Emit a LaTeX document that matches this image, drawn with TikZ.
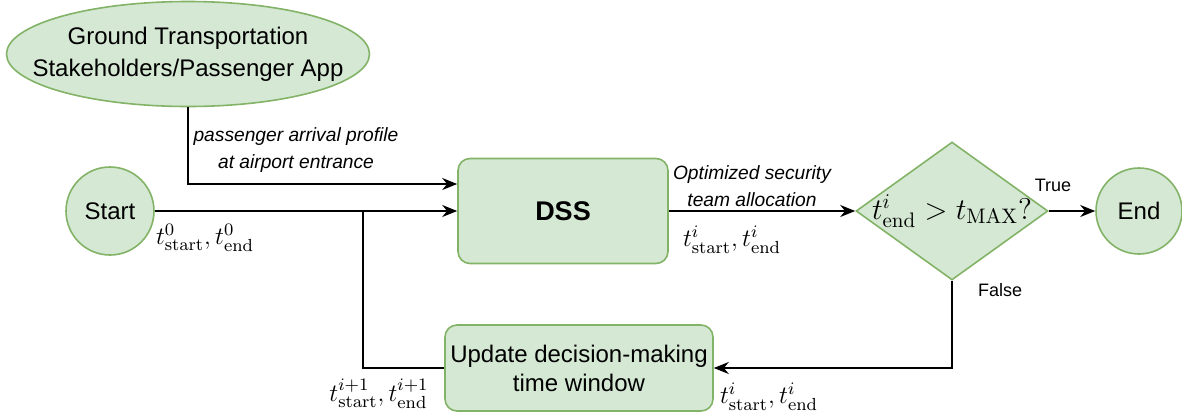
\RequirePackage{fix-cm}
\documentclass[tikz,border=0pt]{standalone}
\usepackage[no-math]{fontspec}
\usepackage{amsmath}
\usetikzlibrary{arrows.meta,calc,positioning,shapes.geometric}
\newfontfamily\arialfont{Liberation Sans}
\definecolor{leaf}{HTML}{D5E8D4}
\definecolor{moss}{HTML}{82B366}

\begin{document}
\begin{tikzpicture}[x=0.5pt,y=-0.5pt,>={Stealth[length=7.5pt,width=6pt]},
  block/.style={draw=moss,fill=leaf,line width=0.8pt,inner sep=0pt,align=center,font=\arialfont\fontsize{12}{14.5}\selectfont},
  flow/.style={->,line width=1pt},
  note/.style={font=\arialfont\itshape\fontsize{9.6}{13.2}\selectfont,align=center},
  tag/.style={font=\arialfont\fontsize{9}{11}\selectfont},
  times/.style={font=\fontsize{12.5}{15}\selectfont}]
\useasboundingbox (0,0) rectangle (1182,418);

% Sources, process blocks and the decision.
\node[block,ellipse,inner xsep=-14pt,minimum width=181.5pt,minimum height=52.5pt,font=\arialfont\fontsize{12}{16}\selectfont] (app) at (188,54) {Ground Transportation\\Stakeholders/Passenger App};
\node[block,circle,minimum size=44pt] (start) at (110,211) {Start};
\node[block,rounded corners=6pt,minimum width=105pt,minimum height=52.5pt,font=\arialfont\bfseries\fontsize{13.5}{16}\selectfont] (dss) at (563,211) {DSS};
\node[block,diamond,minimum width=96pt,minimum height=69pt,font=\fontsize{15}{18}\selectfont] (check) at (952,211) {\makebox[0pt]{$t^i_{\mathrm{end}}>t_{\mathrm{MAX}}?$}};
\node[block,circle,minimum size=43pt] (fin) at (1139,211) {End};
\node[block,rounded corners=6pt,minimum width=134pt,minimum height=43pt] (upd) at (579,368) {Update decision-making\\time window};
\coordinate (merge) at (363,211);

% Forward flow into the DSS and on to the check.
\draw[flow] (app.south) |- ([yshift=13.5pt]dss.west);
\draw[flow] (start) -- (dss);
\draw[flow] (dss) -- (check);
\draw[flow] (check) -- (fin);

% Feedback loop rejoins the start line.
\draw[flow] (check.south) |- (upd.east);
\draw[line width=1pt] (upd.west) -| (merge);

% Edge labels.
\node[note] (profile) at (296,150) {passenger arrival profile\\at airport entrance};
\node[note] (alloc) at (752,186) {Optimized security\\team allocation};
\node[times] (t0) at (205,238) {$t^0_{\mathrm{start}},t^0_{\mathrm{end}}$};
\node[times] (ti) at (732,240) {$t^i_{\mathrm{start}},t^i_{\mathrm{end}}$};
\node[times] (tnext) at (379,394) {$t^{i+1}_{\mathrm{start}},t^{i+1}_{\mathrm{end}}$};
\node[times] (tback) at (769,397) {$t^i_{\mathrm{start}},t^i_{\mathrm{end}}$};
\node[tag] (yes) at (1053,185) {True};
\node[tag] (no) at (1000,290) {False};
\end{tikzpicture}
\end{document}
